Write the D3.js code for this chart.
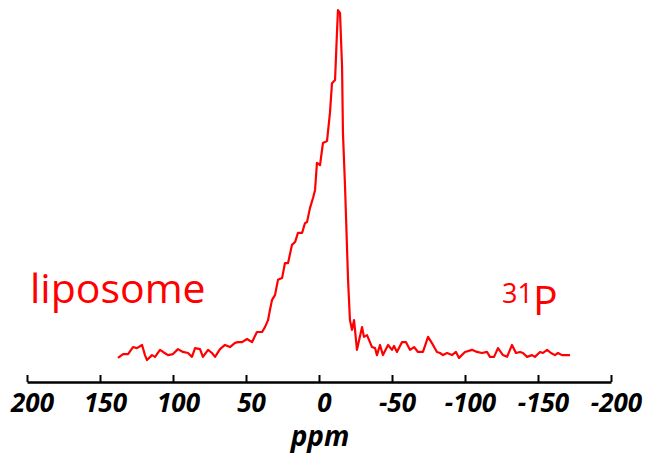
<!DOCTYPE html>
<html>
<head>
<meta charset="utf-8">
<script src="https://cdn.jsdelivr.net/npm/d3@7"></script>
<style>
  body { margin: 0; background: #fff; }
  svg { display: block; }
</style>
</head>
<body>
<div id="chart"></div>
<script>
// 31P spectrum of liposome, chemical shift (ppm) vs intensity (arb.)
const shift = [137.7, 134.2, 130.8, 127.4, 124.7, 121.2, 119.2, 117.8, 114.4, 112.3,
  108.9, 106.8, 103.4, 100.0, 96.6, 93.2, 89.7, 87.0, 84.9, 81.5,
  79.5, 76.0, 73.3, 71.2, 67.8, 64.4, 61.0, 57.5, 55.5, 52.7,
  49.3, 45.9, 42.5, 39.0, 37.0, 34.9, 33.6, 32.2, 30.1, 28.1,
  25.3, 23.3, 21.2, 18.5, 16.4, 14.4, 11.6, 9.6, 8.2, 6.2,
  4.1, 2.7, 1.4, -0.7, -2.7, -5.5, -7.5, -8.9, -11.0, -12.3,
  -13.0, -14.4, -15.8, -16.4, -17.8, -19.9, -21.2, -22.6, -24.0, -26.0,
  -29.5, -30.8, -32.9, -36.3, -38.4, -39.7, -41.8, -43.8, -47.3, -50.0,
  -51.4, -53.4, -56.8, -59.6, -62.3, -65.1, -67.8, -71.2, -74.7, -78.1,
  -80.8, -82.9, -84.9, -87.7, -91.1, -93.8, -95.9, -100.0, -104.8, -108.2,
  -111.6, -115.1, -117.1, -119.9, -122.6, -126.0, -128.8, -132.2, -134.9, -137.7,
  -139.7, -142.5, -145.9, -147.9, -151.4, -153.4, -156.2, -158.9, -161.6, -163.7,
  -166.4, -169.9, -171.9];
const intensity = [0.6, 1.7, 1.7, 3.7, 3.4, 4.3, 1.4, 0.0, 1.4, 0.9,
  2.9, 2.3, 1.4, 1.7, 3.1, 2.3, 2.0, 0.9, 3.4, 3.1,
  0.9, 2.9, 2.0, 0.9, 3.1, 4.3, 3.7, 4.9, 5.1, 5.1,
  6.0, 5.1, 8.0, 8.0, 9.4, 11.4, 14.3, 17.1, 18.6, 22.9,
  23.4, 27.7, 27.7, 32.9, 33.7, 36.3, 36.3, 39.1, 39.4, 43.4,
  46.3, 48.6, 56.3, 55.7, 62.0, 62.6, 70.6, 79.1, 80.0, 93.4,
  100, 99.1, 83.7, 64.9, 50.0, 22.9, 11.4, 8.6, 11.4, 2.9,
  9.4, 6.6, 7.1, 3.7, 3.4, 1.4, 4.3, 1.4, 4.3, 2.9,
  4.0, 2.3, 5.1, 5.1, 2.9, 3.7, 2.3, 2.3, 6.6, 4.3,
  2.3, 2.0, 1.4, 2.0, 1.4, 2.3, 0.6, 2.3, 2.9, 2.3,
  2.0, 2.3, 0.9, 0.9, 3.4, 1.4, 0.9, 4.3, 2.0, 2.3,
  2.0, 0.9, 1.4, 0.9, 2.3, 2.0, 2.9, 2.0, 1.4, 2.0,
  1.4, 1.4, 1.4];
const tickValues = [200, 150, 100, 50, 0, -50, -100, -150, -200];

const W = 654, H = 453;
const svg = d3.select("#chart").append("svg")
  .attr("width", W)
  .attr("height", H);

const x = d3.scaleLinear().domain([200, -200]).range([27, 611]);
const y = d3.scaleLinear().domain([0, 100]).range([360, 10]);

const points = shift.map((s, i) => [s, intensity[i]]);

svg.append("path")
  .datum(points)
  .attr("fill", "none")
  .attr("stroke", "#ff0000")
  .attr("stroke-width", 2.2)
  .attr("stroke-linejoin", "round")
  .attr("d", d3.line().x(d => x(d[0])).y(d => y(d[1])));

// axis with ticks pointing up, plain hyphen for negatives
const axis = svg.append("g")
  .attr("transform", "translate(0,382)")
  .call(d3.axisBottom(x)
    .tickValues(tickValues)
    .tickFormat(d => String(d))
    .tickSize(-7)
    .tickSizeOuter(0)
    .tickPadding(12));

axis.select(".domain").attr("stroke", "#000").attr("stroke-width", 2.5);
axis.selectAll(".tick line").attr("stroke", "#000").attr("stroke-width", 2);
axis.selectAll(".tick text")
  .attr("fill", "#000")
  .attr("font-family", "Open Sans")
  .attr("font-weight", "bold")
  .attr("font-style", "italic")
  .attr("font-size", 26)
  .attr("dx", 5);

svg.append("text")
  .attr("x", 320).attr("y", 446)
  .attr("text-anchor", "middle")
  .attr("font-family", "Open Sans")
  .attr("font-weight", "bold")
  .attr("font-style", "italic")
  .attr("font-size", 28)
  .text("ppm");

svg.append("text")
  .attr("x", 30).attr("y", 303)
  .attr("fill", "#ff0000")
  .attr("font-family", "Open Sans")
  .attr("font-size", 41)
  .text("liposome");

const nuc = svg.append("text")
  .attr("x", 502).attr("y", 315)
  .attr("fill", "#ff0000")
  .attr("font-family", "Open Sans")
  .attr("font-size", 41);
nuc.append("tspan").attr("font-size", 27).attr("dy", -12).text("31");
nuc.append("tspan").attr("dy", 12).text("P");
</script>
</body>
</html>
